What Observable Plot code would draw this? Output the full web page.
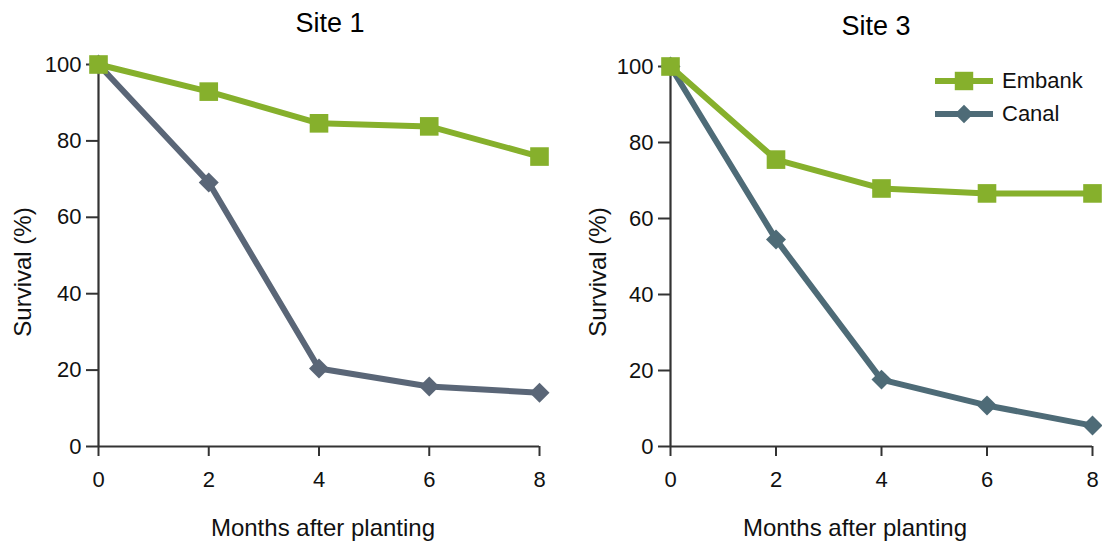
<!DOCTYPE html>
<html>
<head>
<meta charset="utf-8">
<script src="https://cdn.jsdelivr.net/npm/d3@7"></script>
<script src="https://cdn.jsdelivr.net/npm/@observablehq/plot@0.6"></script>
<style>
  html, body { margin: 0; padding: 0; background: #fff; }
  #wrap { position: relative; width: 1102px; height: 549px; font-family: "Liberation Sans", Arial, sans-serif; color: #111; overflow: hidden; }
  .panel { position: absolute; top: 0; }
  .lbl { position: absolute; white-space: nowrap; line-height: 1; transform: translate(-50%, -50%); }
  .lbl.rot { transform: translate(-50%, -50%) rotate(-90deg); }
  .title { font-size: 27px; color: #000; }
  .axlbl { font-size: 24px; }
  #legend { position: absolute; left: 932px; top: 64px; font-size: 22px; color: #111; }
  #legend .row { display: flex; align-items: center; height: 33px; }
  #legend svg { margin-right: 7px; }
</style>
</head>
<body>
<div id="wrap">
  <div class="panel" id="p1" style="left:0px"></div>
  <div class="panel" id="p2" style="left:551px"></div>
  <div id="legend"></div>
</div>
<script>
const months = [0, 2, 4, 6, 8];
const site1Embank = [100, 92.9, 84.6, 83.8, 75.9];
const site1Canal  = [100, 69.1, 20.4, 15.7, 14.1];
const site3Embank = [100, 75.5, 67.9, 66.6, 66.6];
const site3Canal  = [100, 54.5, 17.6, 10.8, 5.5];
const xTicks = [0, 2, 4, 6, 8];
const yTicks = [0, 20, 40, 60, 80, 100];
const seriesNames = ["Embank", "Canal"];
const titles = ["Site 1", "Site 3"];
const xLabel = "Months after planting";
const yLabel = "Survival (%)";

const green = "#86b02c";
const canalColors = ["#5a6677", "#4e6b77"];

function rows(vals) { return months.map((m, i) => ({month: m, value: vals[i]})); }

function panel(cfg) {
  const embank = rows(cfg.embank);
  const canal = rows(cfg.canal);
  return Plot.plot({
    width: 551, height: 549,
    marginLeft: cfg.ml, marginRight: cfg.mr, marginTop: cfg.mt, marginBottom: 549 - 446,
    style: {fontFamily: '"Liberation Sans", Arial, sans-serif', fontSize: "22px", color: "#111", background: "transparent", overflow: "visible"},
    x: {domain: [0, 8]},
    y: {domain: [0, 100]},
    marks: [
      Plot.axisX({ticks: xTicks, tickSize: 10, tickPadding: 15, strokeWidth: 2, stroke: "#333", fill: "#111", label: null, fontSize: 22}),
      Plot.axisY({ticks: yTicks, tickSize: 12, tickPadding: 5, strokeWidth: 2, stroke: "#333", fill: "#111", label: null, fontSize: 22}),
      Plot.ruleX([0], {stroke: "#333", strokeWidth: 2.2}),
      Plot.ruleY([0], {stroke: "#333", strokeWidth: 2.2}),
      Plot.line(canal, {x: "month", y: "value", stroke: cfg.canalColor, strokeWidth: 6}),
      Plot.dot(canal, {x: "month", y: "value", symbol: "diamond2", r: 9, fill: cfg.canalColor, stroke: "none"}),
      Plot.line(embank, {x: "month", y: "value", stroke: green, strokeWidth: 6}),
      Plot.dot(embank, {x: "month", y: "value", symbol: "square", r: 10.5, fill: green, stroke: "none"})
    ]
  });
}

document.getElementById("p1").append(panel({
  embank: site1Embank, canal: site1Canal, canalColor: canalColors[0], ml: 98, mr: 12, mt: 64
}));
document.getElementById("p2").append(panel({
  embank: site3Embank, canal: site3Canal, canalColor: canalColors[1], ml: 119, mr: 10, mt: 66
}));

// titles and axis labels (HTML text)
const wrap = d3.select("#wrap");
function label(text, cls, x, y) {
  wrap.append("div").attr("class", "lbl " + cls).style("left", x + "px").style("top", y + "px").text(text);
}
label(titles[0], "title", 330, 23);
label(titles[1], "title", 876, 26);
label(xLabel, "axlbl", 323, 528);
label(xLabel, "axlbl", 855, 528);
label(yLabel, "axlbl rot", 23, 272);
label(yLabel, "axlbl rot", 598, 272);

// legend
const legend = d3.select("#legend");
const symbols = [d3.symbolSquare, d3.symbolDiamond2];
const legendColors = [green, canalColors[1]];
const areas = [340, 220];
seriesNames.forEach((name, i) => {
  const row = legend.append("div").attr("class", "row");
  const s = row.append("svg").attr("width", 63).attr("height", 24);
  s.append("line").attr("x1", 3).attr("x2", 61).attr("y1", 12).attr("y2", 12)
    .attr("stroke", legendColors[i]).attr("stroke-width", 6);
  s.append("path").attr("transform", "translate(32,12)")
    .attr("d", d3.symbol(symbols[i], areas[i])()).attr("fill", legendColors[i]);
  row.append("span").text(name);
});
</script>
</body>
</html>
